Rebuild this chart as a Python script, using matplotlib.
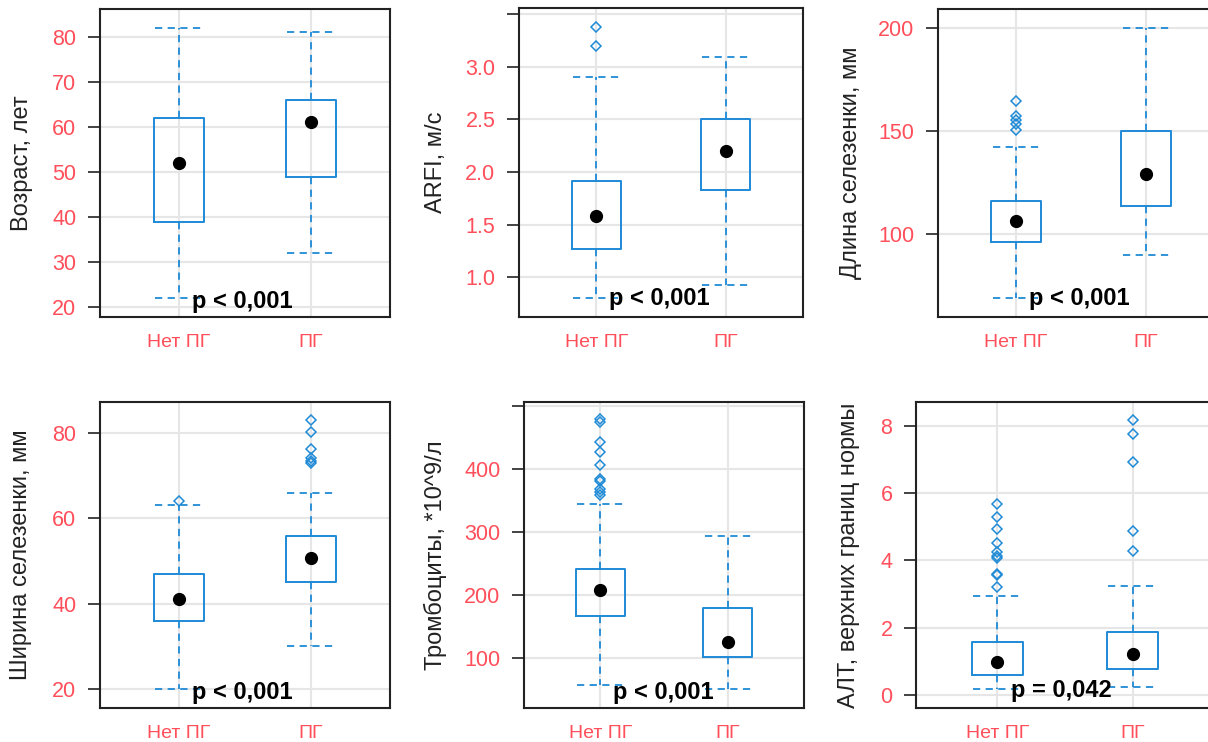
import matplotlib.pyplot as plt

plt.rcParams['font.family'] = ['Liberation Sans', 'DejaVu Sans']

groups = ['Нет ПГ', 'ПГ']
blue = '#1f8ad6'
red = '#ff4f5a'

# each panel: label, ticks, tick labels, ylim, p-value text
labels = ['Возраст, лет', 'ARFI, м/с', 'Длина селезенки, мм',
          'Ширина селезенки, мм', 'Тромбоциты, *10^9/л', 'АЛТ, верхних границ нормы']
yticks = [[20, 30, 40, 50, 60, 70, 80],
          [1.0, 1.5, 2.0, 2.5, 3.0, 3.5],
          [100, 150, 200],
          [20, 40, 60, 80],
          [100, 200, 300, 400, 500],
          [0, 2, 4, 6, 8]]
ytick_labels = [['20', '30', '40', '50', '60', '70', '80'],
                ['1.0', '1.5', '2.0', '2.5', '3.0', ''],
                ['100', '150', '200'],
                ['20', '40', '60', '80'],
                ['100', '200', '300', '400', ''],
                ['0', '2', '4', '6', '8']]
ylims = [(17.8, 86.2), (0.62, 3.56), (60, 209), (15.6, 87.2), (21, 506), (-0.39, 8.7)]
p_text = ['p < 0,001', 'p < 0,001', 'p < 0,001', 'p < 0,001', 'p < 0,001', 'p = 0,042']

# box stats per panel: [Нет ПГ, ПГ]
q1 = [[39, 49], [1.27, 1.83], [96.3, 113.7], [36, 45], [167, 102.6], [0.59, 0.77]]
q3 = [[62, 66], [1.91, 2.5], [116, 150], [47, 55.8], [241, 179], [1.57, 1.87]]
whis_lo = [[22, 32], [0.8, 0.92], [69, 90], [20, 30], [57.7, 50.5], [0.18, 0.22]]
whis_hi = [[82, 81], [2.9, 3.09], [142, 200], [63, 66], [345, 294], [2.95, 3.23]]
centers = [[52, 61], [1.58, 2.2], [106.4, 129], [41, 50.8], [207.7, 125.3], [0.99, 1.21]]
outliers = [
    [[], []],
    [[3.2, 3.38], []],
    [[150.5, 153.5, 155.5, 157, 164.5], []],
    [[64], [73, 73.5, 74.2, 76.2, 80.2, 83]],
    [[358, 363, 368, 381.5, 383.6, 406, 426.5, 443, 474, 479], []],
    [[3.21, 3.55, 3.58, 4.06, 4.14, 4.23, 4.52, 4.94, 5.27, 5.67], [4.27, 4.88, 6.92, 7.76, 8.17]],
]

# axes rectangles in pixels: left, top, right, bottom
W, H = 1208, 742
rects = [(100, 9, 390, 317), (519, 8, 803, 317), (938, 9, 1224, 317),
         (100, 402, 390, 708), (524, 402, 804, 708), (916, 402, 1214, 708)]
label_x = [-0.23, -0.255, -0.267, -0.236, -0.276, -0.188]
p_y = [0.03, 0.04, 0.04, 0.03, 0.03, 0.035]

fig = plt.figure(figsize=(W / 100, H / 100), dpi=100)

for i in range(6):
    l, t, r, b = rects[i]
    ax = fig.add_axes([l / W, 1 - b / H, (r - l) / W, (b - t) / H])
    stats = []
    for g in range(2):
        stats.append({'q1': q1[i][g], 'q3': q3[i][g], 'med': centers[i][g],
                      'whislo': whis_lo[i][g], 'whishi': whis_hi[i][g],
                      'fliers': outliers[i][g], 'mean': centers[i][g]})
    ax.bxp(stats, positions=[1, 2], widths=0.38, capwidths=0.36,
           showmeans=True,
           boxprops=dict(color=blue, linewidth=1.4),
           whiskerprops=dict(color=blue, linewidth=1.3, linestyle=(0, (4, 3))),
           capprops=dict(color=blue, linewidth=1.3, linestyle=(0, (4, 3))),
           medianprops=dict(linewidth=0),
           meanprops=dict(marker='o', markerfacecolor='black', markeredgecolor='black',
                          markersize=8.5),
           flierprops=dict(marker='D', markerfacecolor='none', markeredgecolor=blue,
                           markersize=5, markeredgewidth=1.1),
           zorder=3)
    ax.set_xlim(0.4, 2.6)
    ax.set_ylim(*ylims[i])
    ax.set_xticks([1, 2])
    ax.set_xticklabels(groups)
    ax.set_yticks(yticks[i])
    ax.set_yticklabels(ytick_labels[i])
    ax.tick_params(axis='y', length=9, width=1.2, color='#222222', labelcolor=red,
                   labelsize=15.5, pad=8)
    ax.tick_params(axis='x', length=0, labelcolor=red, labelsize=14, pad=12)
    ax.grid(True, color='#e6e6e6', linewidth=1.5, zorder=0)
    ax.set_axisbelow(True)
    for s in ax.spines.values():
        s.set_linewidth(1.5)
        s.set_color('#222222')
    ax.set_ylabel(labels[i], fontsize=17, color='#222222')
    ax.yaxis.set_label_coords(label_x[i], 0.5)
    ax.text(1.1, p_y[i], p_text[i], transform=ax.get_xaxis_transform(),
            fontsize=17, fontweight='bold', ha='left', va='baseline', zorder=5)

fig.savefig('out.png', dpi=100)
